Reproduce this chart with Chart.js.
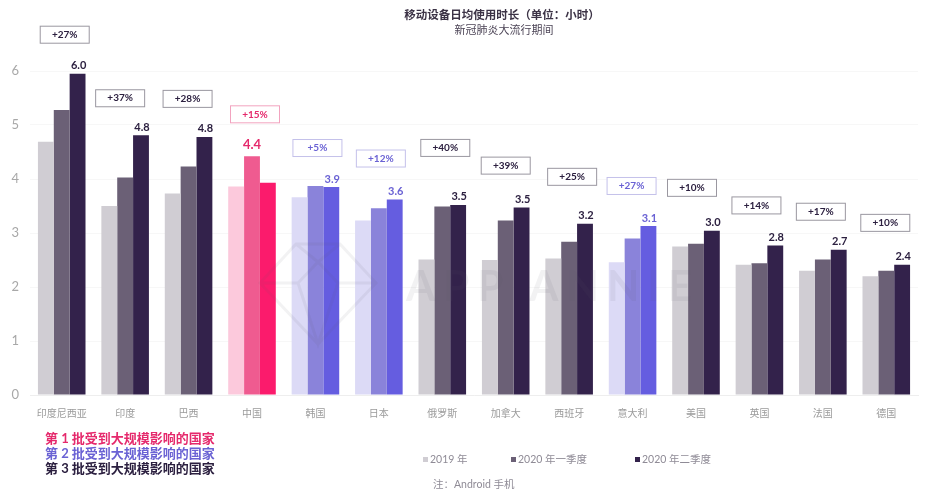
<!DOCTYPE html>
<html lang="zh">
<head>
<meta charset="utf-8">
<title>移动设备日均使用时长</title>
<script src="https://cdn.jsdelivr.net/npm/chart.js@4/dist/chart.umd.min.js"></script>
<style>
  html, body { margin: 0; padding: 0; background: #fff; }
  canvas { display: block; }
</style>
</head>
<body>
<canvas id="usageChart" width="929" height="500"></canvas>
<script>
const countries = ["印度尼西亚", "印度", "巴西", "中国", "韩国", "日本", "俄罗斯", "加拿大", "西班牙", "意大利", "美国", "英国", "法国", "德国"];
const seriesNames = ["2019 年", "2020 年一季度", "2020 年二季度"];
const hours2019 = [4.69, 3.5, 3.73, 3.86, 3.66, 3.23, 2.51, 2.5, 2.53, 2.46, 2.75, 2.41, 2.3, 2.2];
const hours2020Q1 = [5.28, 4.03, 4.23, 4.42, 3.87, 3.46, 3.49, 3.23, 2.84, 2.9, 2.8, 2.44, 2.51, 2.3];
const hours2020Q2 = [5.95, 4.81, 4.78, 3.93, 3.85, 3.62, 3.52, 3.47, 3.17, 3.13, 3.04, 2.77, 2.69, 2.41];
const valueLabels = ["6.0", "4.8", "4.8", "4.4", "3.9", "3.6", "3.5", "3.5", "3.2", "3.1", "3.0", "2.8", "2.7", "2.4"];
const growthLabels = ["+27%", "+37%", "+28%", "+15%", "+5%", "+12%", "+40%", "+39%", "+25%", "+27%", "+10%", "+14%", "+17%", "+10%"];
// which wave of lockdowns each country belongs to
const waves = [3, 3, 3, 1, 2, 2, 3, 3, 3, 2, 3, 3, 3, 3];
const waveNotes = ["第 1 批受到大规模影响的国家", "第 2 批受到大规模影响的国家", "第 3 批受到大规模影响的国家"];

const CJK = '"Lato", "Noto Sans CJK SC", sans-serif';

// bar colours per wave: 2019, Q1, Q2, then text and box border
const palette = {
  1: { bars: ["#fcc9dc", "#ef5b90", "#fb1b6c"], text: "#e5296c", border: "#f2a3bf" },
  2: { bars: ["#dcdaf6", "#8a83da", "#655de0"], text: "#6a62d4", border: "#c4c1ea" },
  3: { bars: ["#d0cdd3", "#6b6076", "#33224b"], text: "#2c2040", border: "#9a97a0" }
};

// hand placed label boxes: shift from group centre, lift above the tallest bar
const boxShiftX = [3, -5, -1, 3, 2, 2, 3, 0, 3, -1, -4, -3, -2, -1];
const boxLift = [39, 37, 38, 42, 38, 41, 57, 42, 47, 40, 43, 40, 38, 42];

const peakSeries = countries.map((_, i) => (i === 3 ? 1 : 2));

function barColors(seriesIndex) {
  return waves.map(w => palette[w].bars[seriesIndex]);
}

function text(ctx, str, x, y, font, color, align) {
  ctx.font = font;
  ctx.fillStyle = color;
  ctx.textAlign = align || "center";
  ctx.textBaseline = "middle";
  ctx.fillText(str, x, y);
}

const annotations = {
  id: "annotations",
  afterDatasetsDraw(chart) {
    const { ctx, scales } = chart;
    ctx.save();

    // watermark
    ctx.globalAlpha = 0.08;
    ctx.strokeStyle = "#5a5a6a";
    ctx.lineWidth = 3;
    ctx.lineJoin = "miter";
    ctx.beginPath();
    ctx.moveTo(260, 283); ctx.lineTo(296, 244); ctx.lineTo(340, 244);
    ctx.lineTo(376, 283); ctx.lineTo(318, 344); ctx.closePath();
    ctx.moveTo(260, 283); ctx.lineTo(298, 283); ctx.lineTo(318, 262);
    ctx.lineTo(338, 283); ctx.lineTo(376, 283);
    ctx.moveTo(298, 283); ctx.lineTo(318, 344); ctx.lineTo(338, 283);
    ctx.moveTo(296, 244); ctx.lineTo(318, 262); ctx.lineTo(340, 244);
    ctx.stroke();
    ctx.letterSpacing = "8px";
    text(ctx, "APP ANNIE", 406, 287, "bold 42px Lato", "#5a5a6a", "left");
    ctx.letterSpacing = "0px";
    ctx.globalAlpha = 1;

    countries.forEach((_, i) => {
      const pal = palette[waves[i]];
      const peak = chart.getDatasetMeta(peakSeries[i]).data[i];
      const isChina = i === 3;

      const labelFont = isChina ? "bold 13px Lato" : "bold 11px Lato";
      text(ctx, valueLabels[i], peak.x + (isChina ? 0 : 1), peak.y - (isChina ? 12 : 8), labelFont, pal.text);

      const tallest = Math.max(hours2019[i], hours2020Q1[i], hours2020Q2[i]);
      const boxX = scales.x.getPixelForValue(i) + boxShiftX[i];
      const boxY = scales.y.getPixelForValue(tallest) - boxLift[i];
      ctx.fillStyle = "#fff";
      ctx.fillRect(boxX - 25, boxY - 9, 50, 18);
      ctx.strokeStyle = pal.border;
      ctx.lineWidth = 1;
      ctx.strokeRect(boxX - 24.5, boxY - 8.5, 49, 17);
      text(ctx, growthLabels[i], boxX, boxY, "bold 10px Lato", pal.text);
    });

    // title
    text(ctx, "移动设备日均使用时长（单位：小时）", 502, 15, "bold 11.5px " + CJK, "#3c3346");
    text(ctx, "新冠肺炎大流行期间", 504, 30, "11px " + CJK, "#4c4456");

    // wave notes
    waveNotes.forEach((note, i) => {
      text(ctx, note, 45, 439 + i * 15, "bold 13px " + CJK, palette[i + 1].text, "left");
    });

    // legend
    const legendX = [423, 511, 635];
    seriesNames.forEach((name, i) => {
      ctx.fillStyle = palette[3].bars[i];
      ctx.fillRect(legendX[i], 457, 5, 5);
      text(ctx, name, legendX[i] + 7, 460, "10.5px " + CJK, "#8f8b96", "left");
    });

    text(ctx, "注：Android 手机", 433, 485, "10.5px " + CJK, "#8f8b96", "left");
    ctx.restore();
  }
};

new Chart(document.getElementById("usageChart"), {
  type: "bar",
  plugins: [annotations],
  data: {
    labels: countries,
    datasets: [
      { label: seriesNames[0], data: hours2019, backgroundColor: barColors(0) },
      { label: seriesNames[1], data: hours2020Q1, backgroundColor: barColors(1) },
      { label: seriesNames[2], data: hours2020Q2, backgroundColor: barColors(2) }
    ]
  },
  options: {
    responsive: false,
    animation: false,
    devicePixelRatio: 1,
    layout: { padding: { top: 71, right: 11, left: 0, bottom: 0 } },
    datasets: { bar: { categoryPercentage: 0.75, barPercentage: 1, borderWidth: 0 } },
    plugins: { legend: { display: false }, title: { display: false }, tooltip: { enabled: false } },
    scales: {
      x: {
        afterFit: s => { s.height = 105; },
        grid: { display: false },
        border: { color: "#eeeeee" },
        ticks: { color: "#9b9b9b", font: { size: 10, family: CJK }, padding: 5, maxRotation: 0, autoSkip: false }
      },
      y: {
        min: 0,
        max: 6,
        afterFit: s => { s.width = 30; },
        grid: { color: "#f7f7f7", drawTicks: false },
        border: { display: false },
        ticks: { stepSize: 1, color: "#a8a8a8", font: { size: 13, family: "Lato" }, padding: 11 }
      }
    }
  }
});
</script>
</body>
</html>
